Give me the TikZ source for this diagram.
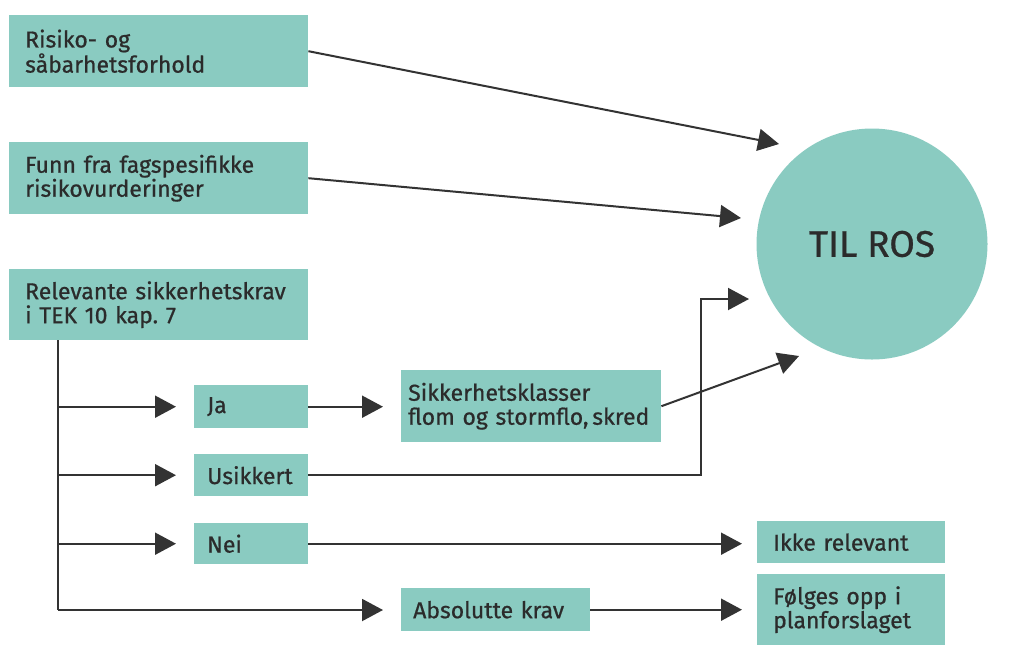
\documentclass[tikz,border=0pt]{standalone}
\usepackage{fontspec}
\setmainfont{Fira Sans}[FakeBold=0.7]
\usetikzlibrary{arrows.meta,calc}
\definecolor{teal1}{HTML}{8ACBC1}
\definecolor{ink}{HTML}{2B2B2B}
\definecolor{lin}{HTML}{333333}
\tikzset{
  boxn/.style={fill=teal1, draw=none, inner ysep=0pt, anchor=north west, align=left, text=ink,
    font=\fontsize{23}{24}\selectfont},
  arr/.style={draw=lin, line width=2pt, -{Triangle[length=21pt,width=22pt]}},
  ln/.style={draw=lin, line width=2pt},
}
\newcommand{\bx}[7]{% name, x, y, w, h, pad, text
  \pgfmathsetmacro{\tw}{#4-2*#6}
  \node[boxn, inner xsep=#6pt, text width=\tw pt, minimum height=#5pt] (#1) at (#2,#3) {#7};
}
\frenchspacing
\begin{document}
\begin{tikzpicture}[x=1pt,y=-1pt]
\useasboundingbox[fill=white] (0,0) rectangle (1023,654);
\bx{b1}{9}{15}{299}{72}{16}{Risiko- og\\såbarhetsforhold}
\bx{b2}{9}{142}{299}{72}{16}{Funn fra fagspesifikke\\risikovurderinger}
\bx{b3}{9}{269}{299}{71}{16}{Relevante sikkerhetskrav\\i TEK 10 kap. 7}
\bx{ja}{194}{385}{114}{43}{13}{Ja}
\bx{us}{194}{454}{114}{42}{13}{Usikkert}
\bx{nei}{194}{523}{114}{41}{13}{Nei}
\bx{sk}{401}{370}{260}{72}{7}{Sikkerhetsklasser\\flom og stormflo,\,skred}
\bx{abs}{401}{588}{189}{43}{12}{Absolutte krav}
\bx{ikke}{757}{521}{188}{42}{16}{Ikke relevant}
\bx{folg}{757}{574}{188}{71}{16}{Følges opp i\\planforslaget}
\node[circle, fill=teal1, minimum size=231pt, inner sep=0pt, text=ink,
  font=\fontsize{37}{40}\selectfont] (ros) at (872,244) {TIL ROS};
% target points
\coordinate (t1) at (779,144);
\coordinate (t2) at (741,218);
\coordinate (t3) at (749,299);
\coordinate (t4) at (799,356);
\coordinate (turn) at (701,0);
\coordinate (tt) at (58,340);
\coordinate (tb) at (58,610);
\draw[arr] (b1.east) -- (t1);
\draw[arr] (b2.east) -- (t2);
\draw[arr] (sk.east) -- (t4);
\draw[arr] (us.east) -- (us.east -| turn) |- (t3);
\draw[ln] (tt) -- (tb);
\draw[arr, shorten >=18pt] (ja.west -| tt) -- (ja.west);
\draw[arr, shorten >=18pt] (us.west -| tt) -- (us.west);
\draw[arr, shorten >=18pt] (nei.west -| tt) -- (nei.west);
\draw[arr, shorten >=18pt] (tb) -- (abs.west |- tb);
\draw[arr, shorten >=18pt] (ja.east) -- (sk.west |- ja.east);
\draw[arr, shorten >=15pt] (nei.east) -- (ikke.west |- nei.east);
\draw[arr, shorten >=15pt] (abs.east) -- (folg.west |- abs.east);
\end{tikzpicture}
\end{document}
